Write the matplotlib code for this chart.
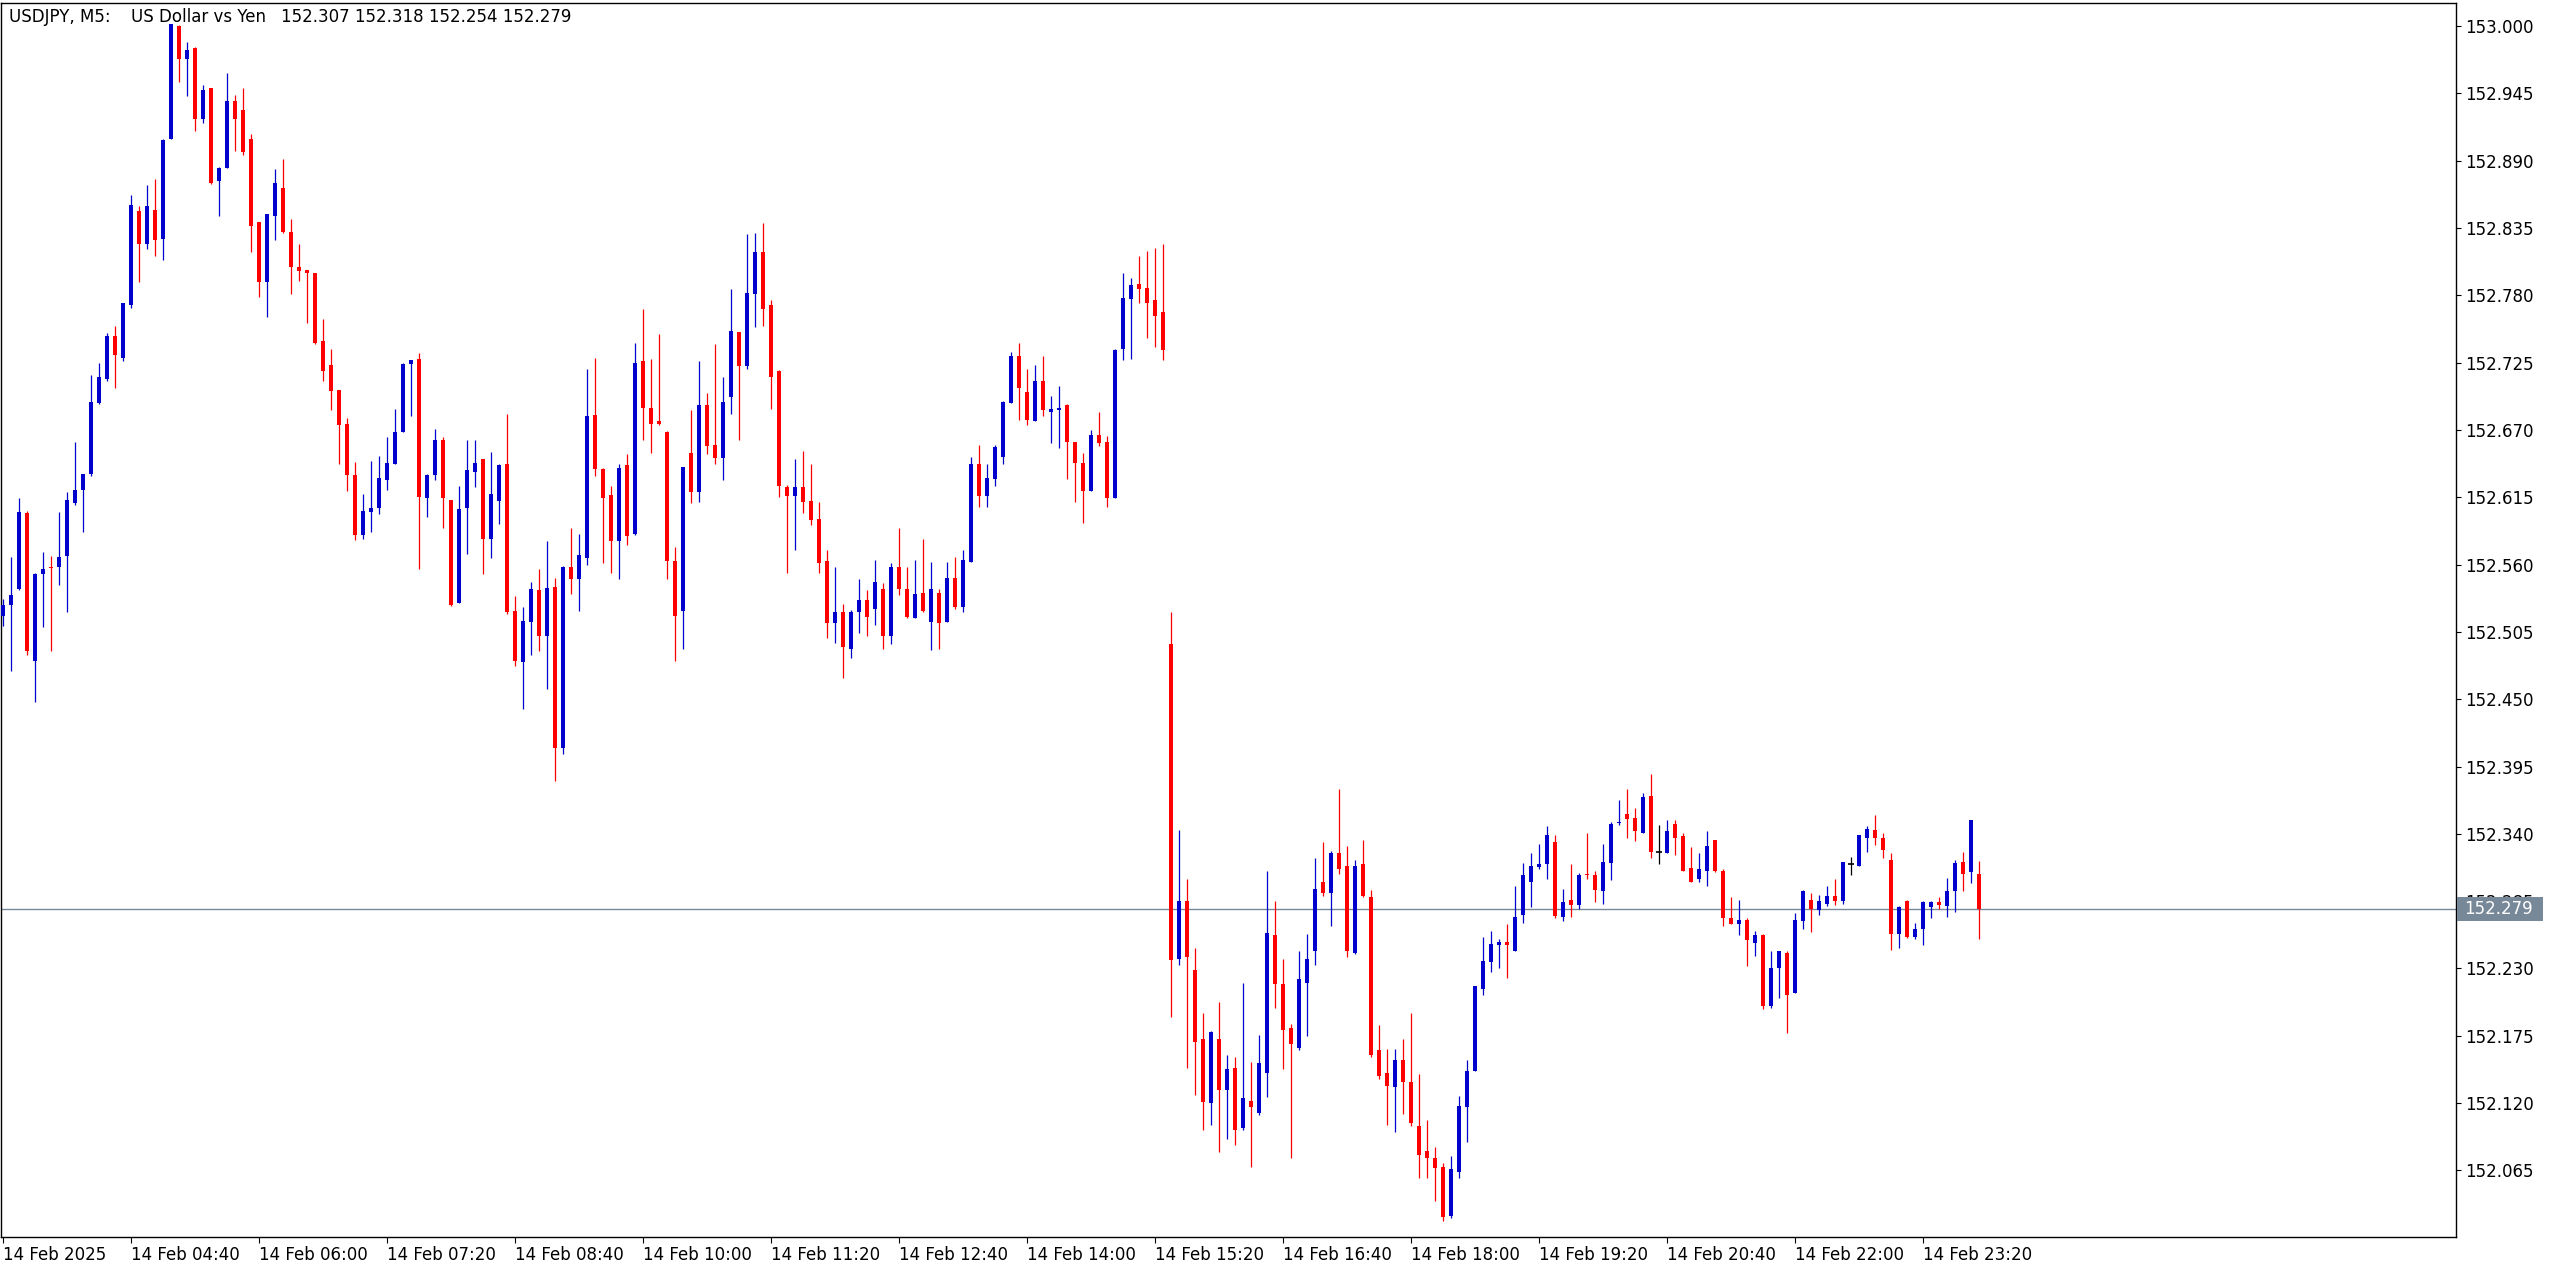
import matplotlib
matplotlib.use('Agg')
import matplotlib.pyplot as plt
from matplotlib.patches import Rectangle
import numpy as np

# ---------------- data (USDJPY M5, 14 Feb 2025 03:20 .. 23:55) ----------------
opens = [152.518, 152.527, 152.540, 152.602, 152.481, 152.552, 152.558, 152.558, 152.567, 152.610,
         152.621, 152.634, 152.692, 152.712, 152.747, 152.729, 152.772, 152.849, 152.822, 152.850,
         152.826, 152.908, 153.000, 152.973, 152.982, 152.924, 152.949, 152.873, 152.884, 152.939,
         152.931, 152.908, 152.840, 152.791, 152.845, 152.868, 152.832, 152.803, 152.801, 152.798,
         152.743, 152.723, 152.703, 152.675, 152.633, 152.584, 152.603, 152.606, 152.629, 152.642,
         152.668, 152.724, 152.728, 152.614, 152.633, 152.662, 152.613, 152.529, 152.606, 152.636,
         152.646, 152.581, 152.612, 152.642, 152.522, 152.480, 152.513, 152.539, 152.502, 152.542,
         152.410, 152.558, 152.548, 152.565, 152.682, 152.638, 152.617, 152.579, 152.641, 152.585,
         152.726, 152.688, 152.677, 152.668, 152.563, 152.522, 152.651, 152.619, 152.690, 152.658,
         152.647, 152.697, 152.750, 152.722, 152.781, 152.815, 152.772, 152.718, 152.623, 152.616,
         152.623, 152.612, 152.597, 152.563, 152.512, 152.521, 152.491, 152.521, 152.531, 152.524,
         152.540, 152.502, 152.558, 152.540, 152.516, 152.537, 152.513, 152.537, 152.513, 152.549,
         152.525, 152.562, 152.642, 152.616, 152.630, 152.648, 152.692, 152.730, 152.701, 152.677,
         152.710, 152.685, 152.686, 152.690, 152.660, 152.643, 152.620, 152.666, 152.660, 152.614,
         152.736, 152.777, 152.789, 152.786, 152.776, 152.766, 152.495, 152.238, 152.285, 152.229,
         152.172, 152.120, 152.172, 152.131, 152.149, 152.100, 152.122, 152.112, 152.145, 152.257,
         152.217, 152.181, 152.165, 152.218, 152.244, 152.301, 152.292, 152.324, 152.314, 152.243,
         152.315, 152.288, 152.163, 152.145, 152.133, 152.155, 152.137, 152.101, 152.081, 152.075,
         152.068, 152.028, 152.064, 152.117, 152.146, 152.213, 152.235, 152.249, 152.252, 152.244,
         152.274, 152.301, 152.313, 152.315, 152.333, 152.272, 152.286, 152.282, 152.307, 152.306,
         152.293, 152.316, 152.349, 152.356, 152.353, 152.341, 152.371, 152.325, 152.324, 152.348,
         152.338, 152.312, 152.303, 152.310, 152.335, 152.310, 152.271, 152.266, 152.270, 152.251,
         152.257, 152.199, 152.230, 152.243, 152.210, 152.269, 152.286, 152.278, 152.283, 152.289,
         152.285, 152.315, 152.314, 152.337, 152.343, 152.337, 152.319, 152.258, 152.285, 152.256,
         152.262, 152.280, 152.284, 152.281, 152.293, 152.317, 152.309, 152.307]
highs = [152.532, 152.566, 152.614, 152.604, 152.553, 152.570, 152.567, 152.603, 152.619, 152.660,
         152.634, 152.715, 152.725, 152.749, 152.755, 152.774, 152.862, 152.853, 152.870, 152.875,
         152.908, 153.002, 153.001, 152.987, 152.983, 152.952, 152.949, 152.885, 152.962, 152.944,
         152.949, 152.912, 152.840, 152.846, 152.883, 152.891, 152.842, 152.822, 152.801, 152.798,
         152.761, 152.736, 152.703, 152.680, 152.644, 152.618, 152.645, 152.649, 152.664, 152.687,
         152.725, 152.727, 152.733, 152.634, 152.671, 152.664, 152.613, 152.624, 152.662, 152.662,
         152.646, 152.652, 152.642, 152.683, 152.534, 152.525, 152.546, 152.556, 152.579, 152.549,
         152.559, 152.590, 152.585, 152.720, 152.729, 152.639, 152.624, 152.642, 152.650, 152.741,
         152.769, 152.728, 152.748, 152.669, 152.574, 152.640, 152.686, 152.726, 152.700, 152.740,
         152.713, 152.785, 152.750, 152.830, 152.831, 152.839, 152.776, 152.719, 152.625, 152.646,
         152.653, 152.642, 152.611, 152.572, 152.558, 152.528, 152.523, 152.548, 152.539, 152.564,
         152.545, 152.561, 152.590, 152.558, 152.564, 152.581, 152.562, 152.540, 152.562, 152.566,
         152.572, 152.648, 152.658, 152.642, 152.658, 152.694, 152.734, 152.741, 152.720, 152.723,
         152.730, 152.698, 152.706, 152.691, 152.660, 152.651, 152.670, 152.685, 152.665, 152.736,
         152.798, 152.794, 152.812, 152.816, 152.819, 152.822, 152.521, 152.343, 152.303, 152.247,
         152.194, 152.179, 152.203, 152.159, 152.158, 152.218, 152.154, 152.176, 152.310, 152.285,
         152.238, 152.185, 152.244, 152.258, 152.320, 152.333, 152.326, 152.377, 152.330, 152.319,
         152.335, 152.294, 152.184, 152.164, 152.164, 152.172, 152.194, 152.144, 152.106, 152.084,
         152.071, 152.077, 152.126, 152.155, 152.216, 152.256, 152.261, 152.254, 152.266, 152.297,
         152.316, 152.324, 152.332, 152.346, 152.339, 152.295, 152.315, 152.308, 152.341, 152.310,
         152.332, 152.350, 152.368, 152.377, 152.361, 152.373, 152.389, 152.347, 152.351, 152.351,
         152.341, 152.329, 152.324, 152.342, 152.335, 152.311, 152.288, 152.286, 152.271, 152.261,
         152.258, 152.244, 152.244, 152.244, 152.275, 152.294, 152.292, 152.290, 152.297, 152.303,
         152.317, 152.321, 152.339, 152.346, 152.355, 152.341, 152.324, 152.281, 152.286, 152.267,
         152.285, 152.285, 152.288, 152.304, 152.319, 152.325, 152.351, 152.318]
lows = [152.510, 152.473, 152.539, 152.486, 152.448, 152.509, 152.489, 152.543, 152.521, 152.609,
        152.587, 152.632, 152.691, 152.710, 152.704, 152.726, 152.770, 152.791, 152.818, 152.812,
        152.809, 152.908, 152.954, 152.943, 152.914, 152.921, 152.871, 152.845, 152.884, 152.898,
        152.895, 152.815, 152.779, 152.762, 152.825, 152.831, 152.781, 152.792, 152.757, 152.740,
        152.710, 152.686, 152.642, 152.620, 152.580, 152.581, 152.587, 152.601, 152.621, 152.642,
        152.668, 152.681, 152.556, 152.599, 152.629, 152.590, 152.526, 152.529, 152.569, 152.623,
        152.552, 152.565, 152.593, 152.520, 152.477, 152.442, 152.486, 152.489, 152.458, 152.383,
        152.405, 152.536, 152.522, 152.560, 152.632, 152.561, 152.553, 152.548, 152.576, 152.584,
        152.662, 152.651, 152.674, 152.548, 152.481, 152.491, 152.610, 152.611, 152.650, 152.642,
        152.629, 152.683, 152.662, 152.720, 152.754, 152.755, 152.687, 152.615, 152.553, 152.572,
        152.602, 152.592, 152.553, 152.500, 152.496, 152.467, 152.484, 152.504, 152.502, 152.511,
        152.491, 152.495, 152.535, 152.516, 152.516, 152.521, 152.490, 152.491, 152.513, 152.524,
        152.521, 152.562, 152.607, 152.607, 152.624, 152.642, 152.692, 152.678, 152.674, 152.677,
        152.681, 152.659, 152.655, 152.630, 152.611, 152.594, 152.620, 152.657, 152.607, 152.614,
        152.727, 152.728, 152.774, 152.745, 152.738, 152.727, 152.190, 152.233, 152.149, 152.127,
        152.098, 152.102, 152.080, 152.091, 152.086, 152.098, 152.068, 152.110, 152.125, 152.198,
        152.148, 152.075, 152.163, 152.175, 152.233, 152.289, 152.265, 152.307, 152.239, 152.242,
        152.288, 152.158, 152.140, 152.102, 152.096, 152.111, 152.101, 152.059, 152.059, 152.040,
        152.024, 152.026, 152.059, 152.088, 152.146, 152.208, 152.227, 152.230, 152.222, 152.244,
        152.267, 152.280, 152.311, 152.303, 152.271, 152.269, 152.272, 152.279, 152.303, 152.284,
        152.283, 152.302, 152.347, 152.337, 152.334, 152.341, 152.320, 152.315, 152.324, 152.323,
        152.310, 152.301, 152.301, 152.297, 152.309, 152.265, 152.266, 152.257, 152.232, 152.240,
        152.197, 152.198, 152.206, 152.177, 152.210, 152.262, 152.260, 152.274, 152.281, 152.282,
        152.283, 152.306, 152.314, 152.325, 152.331, 152.320, 152.245, 152.247, 152.255, 152.254,
        152.249, 152.271, 152.279, 152.272, 152.276, 152.293, 152.300, 152.254]
closes = [152.527, 152.535, 152.603, 152.489, 152.552, 152.556, 152.557, 152.566, 152.613, 152.621,
          152.634, 152.693, 152.713, 152.747, 152.731, 152.774, 152.854, 152.822, 152.853, 152.825,
          152.907, 153.002, 152.973, 152.980, 152.924, 152.948, 152.872, 152.884, 152.939, 152.924,
          152.897, 152.837, 152.791, 152.846, 152.872, 152.832, 152.803, 152.800, 152.798, 152.741,
          152.718, 152.702, 152.674, 152.633, 152.584, 152.604, 152.606, 152.631, 152.643, 152.668,
          152.724, 152.727, 152.615, 152.633, 152.662, 152.614, 152.527, 152.605, 152.637, 152.643,
          152.581, 152.618, 152.641, 152.521, 152.481, 152.514, 152.540, 152.502, 152.541, 152.410,
          152.558, 152.548, 152.568, 152.681, 152.638, 152.614, 152.579, 152.639, 152.583, 152.725,
          152.688, 152.675, 152.675, 152.563, 152.518, 152.640, 152.619, 152.690, 152.657, 152.647,
          152.693, 152.751, 152.722, 152.782, 152.815, 152.769, 152.713, 152.624, 152.616, 152.623,
          152.611, 152.596, 152.561, 152.512, 152.521, 152.493, 152.521, 152.531, 152.517, 152.546,
          152.502, 152.558, 152.540, 152.517, 152.536, 152.522, 152.540, 152.512, 152.549, 152.525,
          152.564, 152.642, 152.616, 152.631, 152.656, 152.693, 152.730, 152.704, 152.678, 152.710,
          152.686, 152.687, 152.688, 152.660, 152.643, 152.620, 152.666, 152.659, 152.614, 152.735,
          152.778, 152.788, 152.785, 152.774, 152.763, 152.735, 152.237, 152.285, 152.239, 152.170,
          152.121, 152.178, 152.131, 152.148, 152.098, 152.124, 152.117, 152.153, 152.259, 152.217,
          152.180, 152.168, 152.221, 152.238, 152.295, 152.292, 152.324, 152.311, 152.244, 152.314,
          152.289, 152.159, 152.142, 152.134, 152.155, 152.137, 152.104, 152.078, 152.075, 152.067,
          152.027, 152.066, 152.118, 152.146, 152.216, 152.236, 152.250, 152.252, 152.249, 152.272,
          152.306, 152.314, 152.315, 152.339, 152.273, 152.284, 152.282, 152.306, 152.306, 152.294,
          152.317, 152.348, 152.350, 152.352, 152.342, 152.370, 152.325, 152.325, 152.342, 152.337,
          152.310, 152.301, 152.311, 152.330, 152.310, 152.271, 152.266, 152.270, 152.253, 152.257,
          152.199, 152.230, 152.244, 152.208, 152.270, 152.293, 152.279, 152.285, 152.289, 152.285,
          152.317, 152.315, 152.339, 152.344, 152.337, 152.327, 152.258, 152.280, 152.256, 152.262,
          152.284, 152.284, 152.282, 152.293, 152.316, 152.307, 152.351, 152.279]

x_tick_bars = [0, 16, 32, 48, 64, 80, 96, 112, 128, 144, 160, 176, 192, 208, 224, 240]
x_tick_labels = ["14 Feb 2025", "14 Feb 04:40", "14 Feb 06:00", "14 Feb 07:20", "14 Feb 08:40",
                 "14 Feb 10:00", "14 Feb 11:20", "14 Feb 12:40", "14 Feb 14:00", "14 Feb 15:20",
                 "14 Feb 16:40", "14 Feb 18:00", "14 Feb 19:20", "14 Feb 20:40", "14 Feb 22:00",
                 "14 Feb 23:20"]
y_ticks = [153.000, 152.945, 152.890, 152.835, 152.780, 152.725, 152.670, 152.615, 152.560,
           152.505, 152.450, 152.395, 152.340, 152.285, 152.230, 152.175, 152.120, 152.065]
last_price = 152.279
title_symbol = "USDJPY, M5:"
title_name = "US Dollar vs Yen"
title_ohlc = "152.307 152.318 152.254 152.279"

# ---------------- figure ----------------
W, H, DPI = 2556, 1270, 100
plt.rcParams['font.family'] = ['DejaVu Sans']
fig = plt.figure(figsize=(W / DPI, H / DPI), dpi=DPI, facecolor='white')

L_px, R_px, T_px, B_px = 1, 2456, 3, 1237
ax = fig.add_axes([L_px / W, 1 - B_px / H, (R_px - L_px) / W, (B_px - T_px) / H])
ax.set_facecolor('white')

BLUE = '#0000CD'
RED = '#FF0000'

o = np.array(opens); h = np.array(highs); l = np.array(lows); c = np.array(closes)
xs = np.arange(len(o))
cols = np.where(c > o, BLUE, np.where(c < o, RED, 'black'))

ax.vlines(xs, l, h, colors=cols, linewidth=0.9, zorder=2)
body_h = np.maximum(np.abs(c - o), 0.0009)
body_b = np.minimum(o, c)
mask = c != o
ax.bar(xs[mask], body_h[mask], bottom=body_b[mask], width=0.62,
       color=cols[mask], linewidth=0, zorder=3)
ax.hlines(o[~mask], xs[~mask] - 0.35, xs[~mask] + 0.35, colors='black', linewidth=1.2, zorder=3)

# current price line
ax.axhline(last_price, color='#778899', linewidth=1.0, zorder=1)

ax.set_xlim((L_px - 3) / 8, (R_px - 3) / 8)
ax.set_ylim(153 - (B_px - 26) / 1224, 153 + (26 - T_px) / 1224)

for s in ax.spines.values():
    s.set_color('black'); s.set_linewidth(1.0)

ax.set_xticks(x_tick_bars)
ax.set_xticklabels(x_tick_labels, ha='left', fontsize=12)
ax.tick_params(axis='x', direction='out', length=4, width=0.8, pad=2.5, colors='black')

ax.yaxis.tick_right()
ax.set_yticks(y_ticks)
ax.set_yticklabels([f"{v:.3f}" for v in y_ticks], fontsize=12)
ax.tick_params(axis='y', direction='out', length=3.5, width=0.8, pad=3, colors='black')

# price label box on the axis
ypix = H - (26 + (153 - last_price) * 1224)
fig.add_artist(Rectangle((2457, ypix - 12), 86, 24, transform=None,
                         facecolor='#778899', edgecolor='none', zorder=5))
fig.text(2464 / W, ypix / H, f"{last_price:.3f}", color='white', fontsize=12,
         ha='left', va='center', zorder=6)

# title (three parts, as laid out in the terminal header)
base_y = 1 - 22.5 / H
fig.text(9 / W, base_y, title_symbol, fontsize=12, ha='left', va='baseline', color='black', zorder=6)
fig.text(131 / W, base_y, title_name, fontsize=12, ha='left', va='baseline', color='black', zorder=6)
fig.text(281 / W, base_y, title_ohlc, fontsize=12, ha='left', va='baseline', color='black', zorder=6)

fig.savefig('out.png', dpi=DPI, facecolor='white')
